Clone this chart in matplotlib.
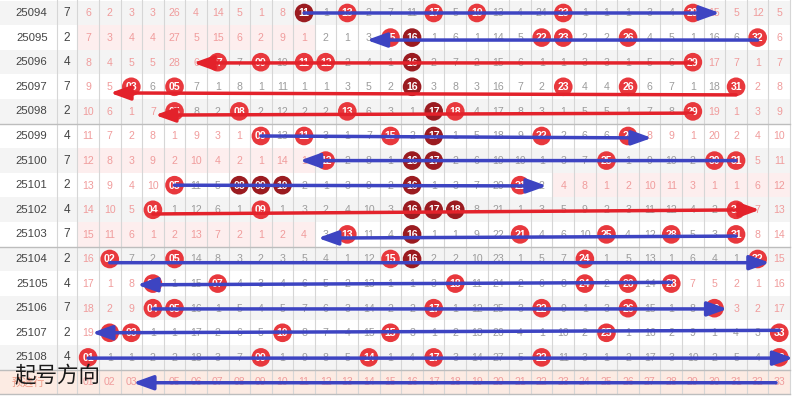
import matplotlib
matplotlib.use("Agg")
import matplotlib.pyplot as plt
from matplotlib.patches import Rectangle

# ---------------------------------------------------------------- data
periods = ["25094", "25095", "25096", "25097", "25098", "25099", "25100", "25101",
           "25102", "25103", "25104", "25105", "25106", "25107", "25108"]
blue_ball = [7, 2, 4, 7, 2, 4, 7, 2, 4, 7, 2, 4, 7, 2, 4]

draws = [
    [11, 13, 17, 19, 23, 29],
    [15, 16, 22, 23, 26, 32],
    [7, 9, 11, 12, 16, 29],
    [3, 5, 16, 23, 26, 31],
    [5, 8, 13, 17, 18, 29],
    [9, 11, 15, 17, 22, 26],
    [12, 16, 17, 25, 30, 31],
    [5, 8, 9, 10, 16, 21],
    [4, 9, 16, 17, 18, 31],
    [13, 16, 21, 25, 28, 31],
    [2, 5, 15, 16, 24, 32],
    [4, 7, 18, 24, 26, 28],
    [4, 5, 17, 22, 26, 30],
    [2, 3, 10, 15, 25, 33],
    [1, 9, 14, 17, 22, 33],
]

# numbers shown as dark balls
dark_balls = [[11], [16], [16], [16], [17], [17], [16, 17], [8, 9, 10, 16],
              [16, 17, 18], [16], [16], [], [], [], []]

# omission counts for numbers 01..33 (0 = drawn)
omission = [
    [6, 2, 3, 3, 26, 4, 14, 5, 1, 8, 0, 1, 0, 2, 7, 11, 0, 5, 0, 13, 4, 24, 0, 1, 1, 1, 3, 4, 0, 15, 5, 12, 5],
    [7, 3, 4, 4, 27, 5, 15, 6, 2, 9, 1, 2, 1, 3, 0, 0, 1, 6, 1, 14, 5, 0, 0, 2, 2, 0, 4, 5, 1, 16, 6, 0, 6],
    [8, 4, 5, 5, 28, 6, 0, 7, 0, 10, 0, 0, 2, 4, 1, 0, 2, 7, 2, 15, 6, 1, 1, 3, 3, 1, 5, 6, 0, 17, 7, 1, 7],
    [9, 5, 0, 6, 0, 7, 1, 8, 1, 11, 1, 1, 3, 5, 2, 0, 3, 8, 3, 16, 7, 2, 0, 4, 4, 0, 6, 7, 1, 18, 0, 2, 8],
    [10, 6, 1, 7, 0, 8, 2, 0, 2, 12, 2, 2, 0, 6, 3, 1, 0, 0, 4, 17, 8, 3, 1, 5, 5, 1, 7, 8, 0, 19, 1, 3, 9],
    [11, 7, 2, 8, 1, 9, 3, 1, 0, 13, 0, 3, 1, 7, 0, 2, 0, 1, 5, 18, 9, 0, 2, 6, 6, 0, 8, 9, 1, 20, 2, 4, 10],
    [12, 8, 3, 9, 2, 10, 4, 2, 1, 14, 1, 0, 2, 8, 1, 0, 0, 2, 6, 19, 10, 1, 3, 7, 0, 1, 9, 10, 2, 0, 0, 5, 11],
    [13, 9, 4, 10, 0, 11, 5, 0, 0, 0, 2, 1, 3, 9, 2, 0, 1, 3, 7, 20, 0, 2, 4, 8, 1, 2, 10, 11, 3, 1, 1, 6, 12],
    [14, 10, 5, 0, 1, 12, 6, 1, 0, 1, 3, 2, 4, 10, 3, 0, 0, 0, 8, 21, 1, 3, 5, 9, 2, 3, 11, 12, 4, 2, 0, 7, 13],
    [15, 11, 6, 1, 2, 13, 7, 2, 1, 2, 4, 3, 0, 11, 4, 0, 1, 1, 9, 22, 0, 4, 6, 10, 0, 4, 12, 0, 5, 3, 0, 8, 14],
    [16, 0, 7, 2, 0, 14, 8, 3, 2, 3, 5, 4, 1, 12, 0, 0, 2, 2, 10, 23, 1, 5, 7, 0, 1, 5, 13, 1, 6, 4, 1, 0, 15],
    [17, 1, 8, 0, 1, 15, 0, 4, 3, 4, 6, 5, 2, 13, 1, 1, 3, 0, 11, 24, 2, 6, 8, 0, 2, 0, 14, 0, 7, 5, 2, 1, 16],
    [18, 2, 9, 0, 0, 16, 1, 5, 4, 5, 7, 6, 3, 14, 2, 2, 0, 1, 12, 25, 3, 0, 9, 1, 3, 0, 15, 1, 8, 0, 3, 2, 17],
    [19, 0, 0, 1, 1, 17, 2, 6, 5, 0, 8, 7, 4, 15, 0, 3, 1, 2, 13, 26, 4, 1, 10, 2, 0, 1, 16, 2, 9, 1, 4, 3, 0],
    [0, 1, 1, 2, 2, 18, 3, 7, 0, 1, 9, 8, 5, 0, 1, 4, 0, 3, 14, 27, 5, 0, 11, 3, 1, 2, 17, 3, 10, 2, 5, 4, 0],
]

numbers = [f"{n:02d}" for n in range(1, 34)]
preselect_label = "预选行"
direction_label = "起号方向"

# hand-drawn direction arrows: (start number, arrow tip, colour)
arrows = [
    (11, 30.25, "blue"), (32, 13.9, "blue"), (29, 5.87, "red"), (31, 2.02, "red"),
    (29, 4.1, "red"), (9, 27.1, "blue"), (31, 10.8, "blue"), (5, 22.24, "blue"),
    (4, 32.1, "red"), (31, 11.64, "blue"), (2, 32.56, "blue"), (28, 3.27, "blue"),
    (4, 30.6, "blue"), (33, 1.18, "blue"), (1, 33.65, "blue"), (32.85, 3.08, "blue"),
]
# slight vertical drift of each stroke (start, end)
arrow_drift = [
    (0, 0), (0.1, 0.1), (0.03, 0.03), (0.33, 0.25), (0.07, 0.15), (0, 0.08),
    (0, 0), (0, 0.03), (0.17, 0), (0.07, 0.15), (0.15, 0.15), (-0.05, 0.05),
    (0.03, 0.03), (-0.1, 0), (0.03, 0.03), (0.03, 0.03),
]

# ---------------------------------------------------------------- style
plt.rcParams["font.family"] = ["Liberation Sans", "Noto Sans CJK SC", "DejaVu Sans"]

ROW_GRAY = "#f4f4f4"
PINK_BG = "#fdeeee"
PRED_BG = "#fcebe3"
GRID = "#d6d6d6"
SEP = "#bdbdbd"
TXT_GRAY = "#9c9c9c"
TXT_PINK = "#f09c9c"
BALL_RED = "#e8383d"
BALL_DARK = "#9b1b20"
LINE_COLORS = {"blue": "#3d44c2", "red": "#e3222b"}

X0, X1 = -3.08, 33.59
Y0, Y1 = -0.528, 15.61
PERIOD_L, PERIOD_R = X0, -0.44
BLUE_R = 0.5
NUM_R = 33.5

fig = plt.figure(figsize=(7.92, 3.97), dpi=100)
ax = fig.add_axes([0, 0, 1, 1])
ax.set_xlim(X0, X1)
ax.set_ylim(Y1, Y0)
ax.axis("off")

n_rows = len(periods)
pred_row = n_rows

# row backgrounds
for i in range(n_rows):
    if i % 2 == 0:
        ax.add_patch(Rectangle((X0, i - 0.5), NUM_R - X0, 1, color=ROW_GRAY, lw=0, zorder=0))
    # zones with no drawn number get a pink band
    for z in range(3):
        lo, hi = z * 11 + 1, z * 11 + 11
        if not any(lo <= d <= hi for d in draws[i]):
            ax.add_patch(Rectangle((lo - 0.5, i - 0.5), 11, 1, color=PINK_BG, lw=0, zorder=0.5))
ax.add_patch(Rectangle((X0, pred_row - 0.5), NUM_R - X0, 1, color=PRED_BG, lw=0, zorder=0))

# grid
for n in range(0, 34):
    ax.plot([n + 0.5, n + 0.5], [Y0, pred_row + 0.5], color=GRID, lw=0.8, zorder=1)
ax.plot([PERIOD_R, PERIOD_R], [Y0, pred_row + 0.5], color=GRID, lw=0.8, zorder=1)
for yb in (4.5, 9.5, 14.5, 15.5):
    ax.plot([X0, NUM_R], [yb, yb], color=SEP, lw=1.0, zorder=1)

period_x = (PERIOD_L + PERIOD_R) / 2
blue_x = (PERIOD_R + BLUE_R) / 2

# table text and balls
for i in range(n_rows):
    ax.text(period_x + 0.15, i, periods[i], ha="center", va="center", fontsize=8.2,
            color="#444444", zorder=2)
    ax.text(blue_x, i, str(blue_ball[i]), ha="center", va="center", fontsize=8.6,
            color="#444444", zorder=2)
    first, last = min(draws[i]), max(draws[i])
    for n in range(1, 34):
        v = omission[i][n - 1]
        if n in draws[i]:
            continue
        pink = (n < first and n <= 11) or (n > last and n >= 23)
        ax.text(n, i + 0.02, str(v), ha="center", va="center", fontsize=7.6,
                color=TXT_PINK if pink else TXT_GRAY, zorder=2)
    xs = draws[i]
    cols = [BALL_DARK if d in dark_balls[i] else BALL_RED for d in xs]
    ax.scatter(xs, [i] * len(xs), s=180, c=cols, linewidths=0, zorder=3)
    for d in xs:
        ax.text(d, i + 0.02, f"{d:02d}", ha="center", va="center", fontsize=7.6,
                color="white", fontweight="bold", zorder=3.5)

# pre-selection row
ax.text(period_x, pred_row + 0.02, preselect_label, ha="center", va="center", fontsize=8,
        color="#ee9a86", zorder=2)
for n, lab in enumerate(numbers, start=1):
    ax.text(n, pred_row + 0.02, lab, ha="center", va="center", fontsize=7.6,
            color=TXT_PINK, zorder=2)

# direction strokes
for row, ((x_start, x_end, key), (dy0, dy1)) in enumerate(zip(arrows, arrow_drift)):
    ax.annotate("", xy=(x_end, row + dy1), xytext=(x_start, row + dy0),
                arrowprops=dict(arrowstyle="-|>,head_length=1.0,head_width=0.36",
                                color=LINE_COLORS[key], lw=2.5, mutation_scale=12,
                                shrinkA=0, shrinkB=0),
                annotation_clip=False, zorder=5)

ax.text(-2.4, 14.76, direction_label, ha="left", va="center", fontsize=15.5,
        family=["Noto Sans CJK SC", "DejaVu Sans"], color="#1a1a1a", zorder=6)

fig.savefig("out.png", dpi=100)
